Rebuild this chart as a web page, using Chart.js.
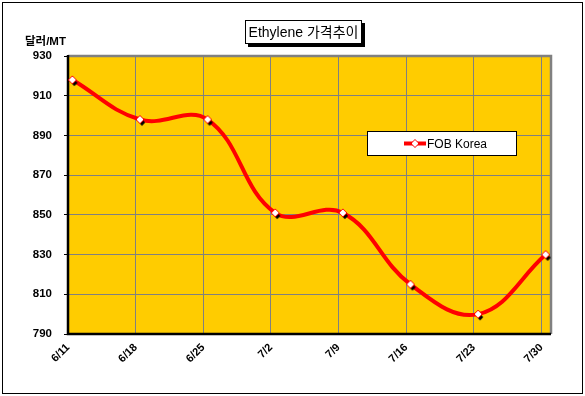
<!DOCTYPE html>
<html><head><meta charset="utf-8">
<script src="https://cdn.jsdelivr.net/npm/chart.js@4"></script>
<style>html,body{margin:0;padding:0;background:#fff;}canvas{display:block;}</style>
</head><body>
<canvas id="c" width="585" height="396"></canvas>
<script>
// ---- data ----
const dates = ['6/11', '6/18', '6/25', '7/2', '7/9', '7/16', '7/23', '7/30'];
const fobKorea = [918, 898, 898, 851, 851, 815, 800, 830];
const yMin = 790, yMax = 930, yStep = 20;
const titleText = 'Ethylene 가격추이';
const unitText = '달러/MT';
const seriesName = 'FOB Korea';

// ---- derived ----
function dayOffset(s) {
  const [m, d] = s.split('/').map(Number);
  const [m0, d0] = dates[0].split('/').map(Number);
  return Math.round((new Date(2000, m - 1, d) - new Date(2000, m0 - 1, d0)) / 86400000);
}
const days = dates.map(dayOffset);
const POINT_SHIFT = 0.45; // points sit slightly right of week gridlines
const points = fobKorea.map((v, i) => ({ x: days[i] + POINT_SHIFT, y: v }));

const FONT = "'Liberation Sans', Arial, 'Noto Sans CJK KR', sans-serif";

function makeMarker(withShadow) {
  const c = document.createElement('canvas');
  c.width = 18; c.height = 18;
  const g = c.getContext('2d');
  function diamond(cx, cy, r) {
    g.beginPath(); g.moveTo(cx, cy - r); g.lineTo(cx + r, cy); g.lineTo(cx, cy + r); g.lineTo(cx - r, cy); g.closePath();
  }
  if (withShadow) { g.fillStyle = '#000'; diamond(11, 12, 3.2); g.fill(); }
  diamond(9, 9, 4); g.fillStyle = '#fff'; g.fill(); g.lineWidth = 1; g.strokeStyle = '#ff0000'; g.stroke();
  return c;
}
const marker = makeMarker(true);
const legendMarker = makeMarker(false);

const decor = {
  id: 'decor',
  beforeDraw(chart) {
    const { ctx, chartArea: a } = chart;
    ctx.save();
    ctx.fillStyle = '#fff'; ctx.fillRect(0, 0, chart.width, chart.height);
    ctx.fillStyle = '#FFCC00'; ctx.fillRect(a.left, a.top, a.right - a.left, a.bottom - a.top);
    ctx.restore();
  },
  beforeDatasetsDraw(chart) {
    const { ctx, chartArea: a } = chart;
    ctx.save();
    ctx.strokeStyle = '#808080'; ctx.lineWidth = 2.5;
    ctx.beginPath(); ctx.moveTo(a.left, a.top); ctx.lineTo(a.right, a.top); ctx.lineTo(a.right, a.bottom); ctx.stroke();
    ctx.strokeStyle = '#000'; ctx.lineWidth = 2.5;
    ctx.beginPath(); ctx.moveTo(a.left, a.top - 1); ctx.lineTo(a.left, a.bottom); ctx.lineTo(a.right, a.bottom); ctx.stroke();
    ctx.restore();
  },
  afterDraw(chart) {
    const { ctx } = chart;
    ctx.save();
    // outer frame
    ctx.strokeStyle = '#000'; ctx.lineWidth = 1;
    ctx.strokeRect(2.5, 2.5, 580, 391);
    // title box
    const tb = { x: 245, y: 20, w: 117, h: 24 };
    ctx.fillStyle = '#000'; ctx.fillRect(tb.x + 3, tb.y + 3, tb.w, tb.h);
    ctx.fillStyle = '#fff'; ctx.fillRect(tb.x, tb.y, tb.w, tb.h);
    ctx.strokeRect(tb.x + 0.5, tb.y + 0.5, tb.w - 1, tb.h - 1);
    ctx.fillStyle = '#000'; ctx.font = '14px ' + FONT; ctx.textAlign = 'center'; ctx.textBaseline = 'middle';
    ctx.fillText(titleText, tb.x + tb.w / 2, tb.y + tb.h / 2 + 1);
    // unit
    ctx.font = 'bold 11.5px ' + FONT; ctx.textAlign = 'left';
    ctx.fillText(unitText, 25, 42);
    // legend
    const lb = { x: 367, y: 131, w: 150, h: 25 };
    ctx.fillStyle = '#fff'; ctx.fillRect(lb.x, lb.y, lb.w, lb.h);
    ctx.strokeStyle = '#000'; ctx.strokeRect(lb.x + 0.5, lb.y + 0.5, lb.w - 1, lb.h - 1);
    const ly = lb.y + lb.h / 2;
    ctx.strokeStyle = '#ff0000'; ctx.lineWidth = 4;
    ctx.beginPath(); ctx.moveTo(404, ly); ctx.lineTo(426, ly); ctx.stroke();
    ctx.drawImage(legendMarker, 415 - 9, ly - 9);
    ctx.fillStyle = '#000'; ctx.font = '12px ' + FONT; ctx.textAlign = 'left'; ctx.textBaseline = 'middle';
    ctx.fillText(seriesName, 427, ly + 1);
    ctx.restore();
  }
};

new Chart(document.getElementById('c'), {
  type: 'line',
  data: {
    datasets: [{
      label: seriesName,
      data: points,
      borderColor: '#ff0000',
      borderWidth: 4,
      tension: 0.4,
      pointStyle: marker,
      pointRadius: 4,
      pointHoverRadius: 4,
      clip: false
    }]
  },
  options: {
    responsive: false,
    devicePixelRatio: 1,
    animation: false,
    events: [],
    layout: { padding: { top: 56, right: 34, left: 0, bottom: 0 } },
    plugins: { legend: { display: false }, title: { display: false }, tooltip: { enabled: false } },
    scales: {
      x: {
        type: 'linear',
        min: 0,
        max: days[days.length - 1] + 1,
        afterBuildTicks(s) { s.ticks = days.map(v => ({ value: v })); },
        afterFit(s) { s.height = 62; },
        grid: { color: '#808080', lineWidth: 1, drawTicks: false },
        border: { display: false },
        ticks: {
          autoSkip: false, maxRotation: 45, minRotation: 45, padding: 7,
          color: '#000', font: { family: FONT, size: 11, weight: 'bold' },
          callback(v) { const i = days.indexOf(v); return i >= 0 ? dates[i] : ''; }
        }
      },
      y: {
        min: yMin, max: yMax,
        afterFit(s) { s.width = 68; },
        grid: { color: '#808080', lineWidth: 1, tickLength: 4, tickColor: '#000' },
        border: { display: false },
        ticks: { stepSize: yStep, padding: 12, color: '#000', font: { family: FONT, size: 11.5, weight: 'bold' } }
      }
    }
  },
  plugins: [decor]
});
</script>
</body></html>
